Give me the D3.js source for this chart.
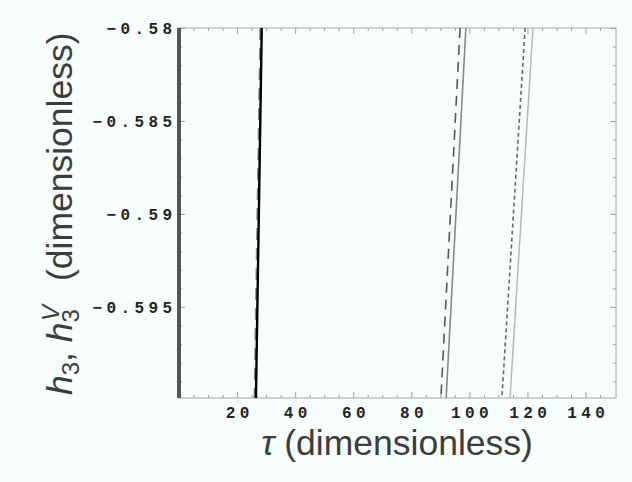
<!DOCTYPE html>
<html>
<head>
<meta charset="utf-8">
<script src="https://cdn.jsdelivr.net/npm/d3@7"></script>
<style>
body { margin: 0; background: #f8fdfd; }
</style>
</head>
<body>
<script>
// values (tau at the top and bottom edge of the frame)
var hEnds = [-0.58, -0.5999];
var tauZero = [0, 0];
var tauBlack = [28.5, 26.5];
var tauBlackDash = [28.1, 26.1];
var tauDashed = [96.8, 90.2];
var tauSolidGray = [98.8, 92.0];
var tauDotted = [119.2, 111.2];
var tauLight = [121.9, 114.0];

var xTicks = [20, 40, 60, 80, 100, 120, 140];
var xTickLabels = ["20", "40", "60", "80", "100", "120", "140"];
var yTicks = [-0.58, -0.585, -0.59, -0.595];
var yTickLabels = ["\u22120.58", "\u22120.585", "\u22120.59", "\u22120.595"];

var W = 632, H = 482;
var padL = 179, padR = 616, padT = 28, padB = 398;

var svg = d3.select("body").append("svg")
    .attr("width", W).attr("height", H)
    .style("display", "block")
    .style("background", "#f8fdfd");

var x = d3.scaleLinear().domain([0, 150.5]).range([padL, padR]);
var y = d3.scaleLinear().domain([-0.5999, -0.58]).range([padB, padT]);

// frame
svg.append("rect")
    .attr("x", padL).attr("y", padT)
    .attr("width", padR - padL).attr("height", padB - padT)
    .attr("fill", "none").attr("stroke", "#a8a8a8").attr("stroke-width", 1);

// ticks, all pointing inward
var tickCol = "#a0a0a0";
var xMinor = d3.range(5, 150, 5).filter(function(v){ return xTicks.indexOf(v) < 0; });
var yMinor = d3.range(-0.599, -0.5801, 0.001).filter(function(v){
    return yTicks.every(function(t){ return Math.abs(t - v) > 1e-6; });
});

function tickAxis(gen, vals, len, tx, ty) {
    var g = svg.append("g").attr("transform", "translate(" + tx + "," + ty + ")")
        .call(gen.tickValues(vals).tickSizeInner(-len).tickSizeOuter(0).tickFormat(""));
    g.select(".domain").remove();
    g.selectAll("line").attr("stroke", tickCol);
}
tickAxis(d3.axisBottom(x), xTicks, 6, 0, padB);
tickAxis(d3.axisBottom(x), xMinor, 3, 0, padB);
tickAxis(d3.axisTop(x), xTicks, 6, 0, padT);
tickAxis(d3.axisTop(x), xMinor, 3, 0, padT);
tickAxis(d3.axisLeft(y), yTicks, 6, padL, 0);
tickAxis(d3.axisLeft(y), yMinor, 3, padL, 0);
tickAxis(d3.axisRight(y), yTicks, 6, padR, 0);
tickAxis(d3.axisRight(y), yMinor, 3, padR, 0);

// tick labels
var ls = 4.4;
var tickFont = "'Liberation Mono', 'DejaVu Sans Mono', monospace";
var xl = svg.append("g").attr("transform", "translate(0," + padB + ")")
    .call(d3.axisBottom(x).tickValues(xTicks).tickSize(0).tickPadding(0)
        .tickFormat(function(d, i){ return xTickLabels[i]; }));
xl.select(".domain").remove();
xl.selectAll("text")
    .attr("y", 20).attr("dy", null).attr("dx", ls / 2)
    .style("font-family", tickFont).style("font-weight", "bold")
    .style("font-size", "16px").style("letter-spacing", ls + "px")
    .attr("fill", "#222");

var yl = svg.append("g").attr("transform", "translate(" + padL + ",0)")
    .call(d3.axisLeft(y).tickValues(yTicks).tickSize(0).tickPadding(0)
        .tickFormat(function(d, i){ return yTickLabels[i]; }));
yl.select(".domain").remove();
yl.selectAll("text")
    .attr("x", -7 + ls).attr("dy", "0.35em")
    .style("font-family", tickFont).style("font-weight", "bold")
    .style("font-size", "16px").style("letter-spacing", ls + "px")
    .attr("fill", "#222");

// curves
var series = [
    { tau: tauZero,      color: "#555", width: 4,   dash: null },
    { tau: tauLight,     color: "#b8b8b8", width: 1.5, dash: null },
    { tau: tauDotted,    color: "#666", width: 1.6, dash: "4,3" },
    { tau: tauSolidGray, color: "#888", width: 1.6, dash: null },
    { tau: tauDashed,    color: "#555", width: 1.6, dash: "10,7" },
    { tau: tauBlackDash, color: "#888", width: 2.5, dash: "12,8" },
    { tau: tauBlack,     color: "#000", width: 2.4, dash: null }
];

var line = d3.line()
    .x(function(d){ return x(d[0]); })
    .y(function(d){ return y(d[1]); });

series.forEach(function(s){
    svg.append("path")
        .datum(d3.zip(s.tau, hEnds))
        .attr("d", line)
        .attr("fill", "none")
        .attr("stroke", s.color)
        .attr("stroke-width", s.width)
        .attr("stroke-dasharray", s.dash);
});

// axis titles
var labelFont = "'Liberation Sans', Arial, sans-serif";
var labCol = "#3c3c3c";

var xt = svg.append("text")
    .attr("x", 397).attr("y", 455)
    .attr("text-anchor", "middle")
    .style("font-family", labelFont).style("font-size", "35.5px")
    .attr("fill", labCol);
xt.append("tspan").style("font-style", "italic").text("\u03c4");
xt.append("tspan").text(" (dimensionless)");

var yt = svg.append("text")
    .attr("transform", "translate(72,395) rotate(-90)")
    .attr("text-anchor", "start")
    .style("font-family", labelFont).style("font-size", "35.5px")
    .attr("fill", labCol);
yt.append("tspan").style("font-style", "italic").text("h");
yt.append("tspan").style("font-size", "24px").attr("dy", 7).text("3");
yt.append("tspan").attr("dy", -7).text(", ");
yt.append("tspan").style("font-style", "italic").text("h");
yt.append("tspan").style("font-size", "24px").attr("dy", 7).text("3");
yt.append("tspan").style("font-size", "24px").style("font-style", "italic")
    .attr("dx", -12).attr("dy", -20).text("V");
yt.append("tspan").attr("dy", 13).attr("dx", 24).text("(dimensionless)");
</script>
</body>
</html>
